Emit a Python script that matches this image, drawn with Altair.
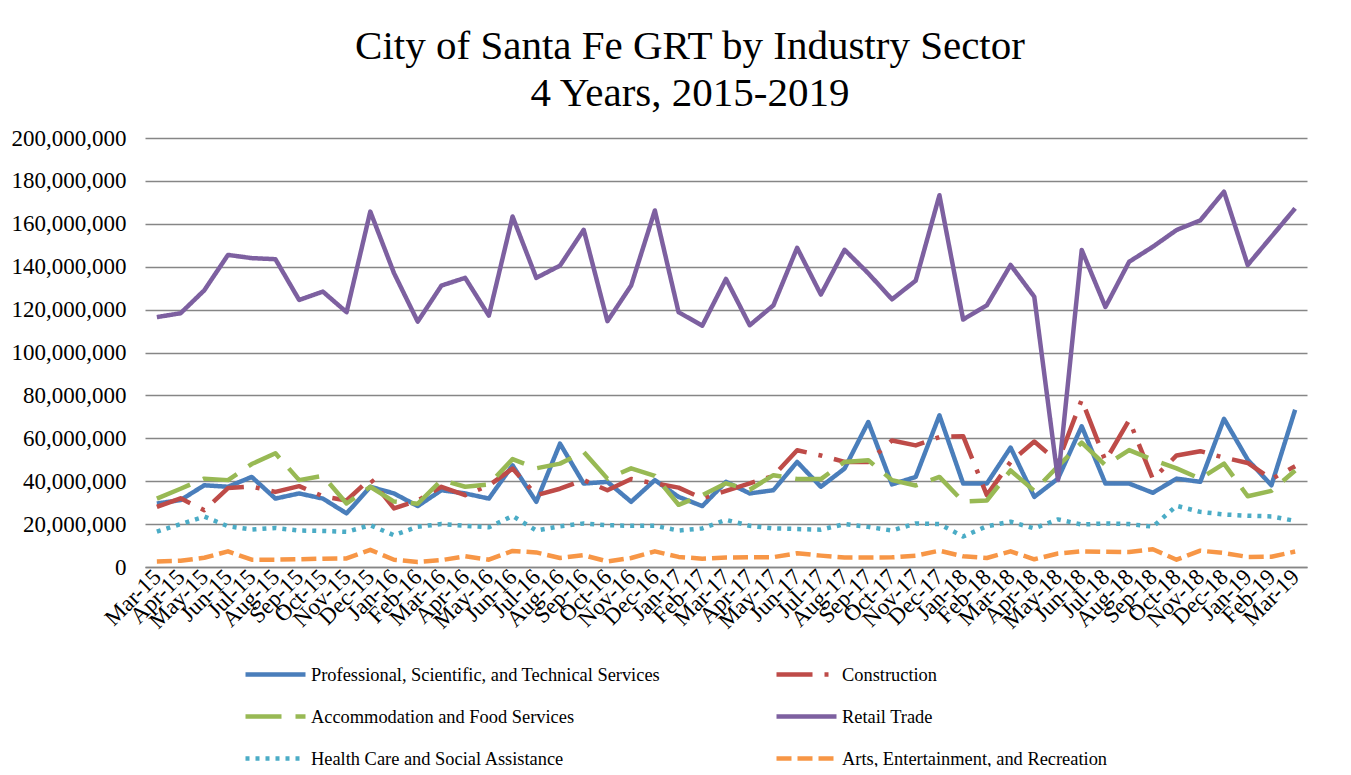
import altair as alt
import pandas as pd

months = ["Mar-15", "Apr-15", "May-15", "Jun-15", "Jul-15", "Aug-15", "Sep-15", "Oct-15", "Nov-15", "Dec-15",
          "Jan-16", "Feb-16", "Mar-16", "Apr-16", "May-16", "Jun-16", "Jul-16", "Aug-16", "Sep-16", "Oct-16",
          "Nov-16", "Dec-16", "Jan-17", "Feb-17", "Mar-17", "Apr-17", "May-17", "Jun-17", "Jul-17", "Aug-17",
          "Sep-17", "Oct-17", "Nov-17", "Dec-17", "Jan-18", "Feb-18", "Mar-18", "Apr-18", "May-18", "Jun-18",
          "Jul-18", "Aug-18", "Sep-18", "Oct-18", "Nov-18", "Dec-18", "Jan-19", "Feb-19", "Mar-19"]

# values in millions of dollars
professional = [29.6, 31.2, 38.1, 37.4, 42.0, 31.9, 34.3, 31.9, 25.0, 37.4,
                34.3, 28.4, 35.8, 34.3, 31.9, 47.4, 30.4, 57.5, 38.9, 39.7,
                30.4, 40.5, 32.7, 28.4, 39.7, 34.3, 35.8, 49.0, 37.4, 45.9,
                67.6, 38.5, 42.0, 70.7, 38.9, 38.9, 55.7, 32.7, 41.2, 65.6,
                38.9, 38.9, 34.6, 41.2, 39.7, 69.1, 50.0, 38.1, 73.3]
construction = [28.0, 32.0, 26.5, 36.8, 37.5, 35.0, 37.7, 33.0, 31.0, 41.2,
                27.3, 31.0, 37.4, 33.5, 38.0, 45.9, 33.5, 36.5, 40.5, 35.8,
                41.0, 39.0, 37.0, 32.0, 35.5, 39.0, 42.5, 54.4, 52.0, 49.0,
                49.0, 59.0, 56.7, 60.6, 61.0, 33.5, 49.0, 58.5, 49.0, 78.0,
                49.5, 68.5, 41.0, 52.0, 54.0, 51.0, 48.5, 41.0, 47.0]
accommodation = [31.9, 36.5, 41.2, 40.5, 48.0, 53.0, 40.5, 42.5, 29.6, 37.4,
                 30.5, 29.5, 40.5, 37.4, 38.5, 50.3, 46.0, 48.2, 53.6, 41.2,
                 46.0, 42.5, 29.0, 33.5, 39.0, 36.0, 42.8, 41.0, 41.0, 49.0,
                 49.8, 40.5, 38.0, 42.0, 30.5, 31.0, 45.0, 35.5, 47.0, 58.0,
                 47.4, 54.5, 50.0, 46.0, 41.2, 48.2, 33.0, 35.5, 45.0]
retail = [116.5, 118.3, 129.0, 145.5, 144.0, 143.5, 124.5, 128.4, 118.8, 165.7,
          137.0, 114.4, 131.2, 134.8, 117.2, 163.4, 134.8, 140.5, 157.2, 114.6,
          131.2, 166.2, 118.8, 112.5, 134.3, 112.7, 122.0, 148.8, 127.0, 147.9,
          136.9, 124.8, 133.5, 173.3, 115.4, 122.0, 140.8, 126.0, 40.6, 147.8,
          121.2, 142.3, 149.3, 157.1, 161.6, 175.0, 140.8, 154.0, 167.2]
health = [16.5, 20.0, 23.5, 19.0, 17.5, 18.2, 17.0, 16.8, 16.4, 19.5,
          14.8, 18.8, 20.0, 19.2, 18.5, 23.8, 17.0, 19.0, 20.3, 19.5,
          19.2, 19.2, 17.0, 18.0, 22.0, 19.2, 18.0, 17.7, 17.4, 20.0,
          18.7, 17.0, 20.3, 20.0, 14.2, 19.0, 21.1, 18.0, 22.2, 19.8,
          20.3, 20.0, 18.8, 28.5, 25.7, 24.5, 23.9, 23.6, 21.5]
arts = [2.6, 2.9, 4.3, 7.3, 3.4, 3.4, 3.6, 3.9, 4.0, 8.0,
        3.4, 2.3, 3.2, 5.0, 3.4, 7.5, 6.8, 4.2, 5.5, 2.6,
        4.2, 7.3, 4.7, 3.9, 4.4, 4.5, 4.6, 6.4, 5.3, 4.4,
        4.4, 4.5, 5.3, 7.6, 5.0, 4.2, 7.3, 3.6, 6.3, 7.3,
        7.1, 7.0, 8.3, 3.4, 7.6, 6.5, 4.7, 4.8, 7.2]

series_names = ["Professional, Scientific, and Technical Services", "Construction",
                "Accommodation and Food Services", "Retail Trade",
                "Health Care and Social Assistance", "Arts, Entertainment, and Recreation"]
series_values = [professional, construction, accommodation, retail, health, arts]
series_colors = ["#4A7EBB", "#BE4B48", "#98B954", "#7D60A0", "#4BACC6", "#F79646"]
series_dashes = [[1, 0], [36, 12, 4, 12], [36, 14], [1, 0], [4, 6], [15, 6]]
y_ticks = [0, 20, 40, 60, 80, 100, 120, 140, 160, 180, 200]

# legend fills column by column: order so rows read as in the original
legend_order = [0, 2, 4, 1, 3, 5]
dom = [series_names[i] for i in legend_order]
col_range = [series_colors[i] for i in legend_order]
dash_range = [series_dashes[i] for i in legend_order]

rows = []
for name, vals in zip(series_names, series_values):
    for m, v in zip(months, vals):
        rows.append({"Month": m, "Series": name, "Value": v})
df = pd.DataFrame(rows)

legend = alt.Legend(
    title=None, orient="none", legendX=98, legendY=504, columns=2,
    columnPadding=106, rowPadding=-18, symbolType="stroke", symbolSize=3600,
    symbolStrokeWidth=4.5, labelFont="Liberation Serif", labelFontSize=18.4,
    labelColor="black", labelLimit=600, labelOffset=3,
)

chart = alt.Chart(df).mark_line(strokeWidth=4.5, strokeJoin="round").encode(
    x=alt.X("Month:N", sort=months, scale=alt.Scale(type="point", padding=0.5),
            axis=alt.Axis(title=None, labelAngle=-45, labelAlign="right", labelBaseline="middle",
                          labelFont="Liberation Serif", labelFontSize=23, labelColor="black",
                          labelOverlap=False, ticks=False, grid=False, domainColor="#868686",
                          domainWidth=1.5, labelPadding=6)),
    y=alt.Y("Value:Q", scale=alt.Scale(domain=[0, 200], nice=False, zero=True),
            axis=alt.Axis(title=None, values=y_ticks, labelExpr="format(datum.value * 1000000, ',')",
                          labelFont="Liberation Serif", labelFontSize=23, labelColor="black",
                          ticks=False, domain=False, grid=True, gridColor="#868686", gridWidth=1.5,
                          labelPadding=19)),
    color=alt.Color("Series:N", scale=alt.Scale(domain=dom, range=col_range), legend=legend),
    strokeDash=alt.StrokeDash("Series:N", scale=alt.Scale(domain=dom, range=dash_range), legend=legend),
).properties(
    width=1162, height=429,
    title=alt.Title(text=["City of Santa Fe GRT by Industry Sector", "4 Years, 2015-2019"],
                    font="Liberation Serif", fontSize=41, fontWeight="normal", color="black",
                    anchor="middle", frame="group", dx=-36, offset=12, lineHeight=47),
    autosize=alt.AutoSizeParams(type="none"),
    padding={"left": 137, "top": 130, "right": 36, "bottom": 200},
    background="white",
).configure_view(strokeWidth=0)

chart.save("out.html", embed_options={"renderer": "svg", "actions": False})
